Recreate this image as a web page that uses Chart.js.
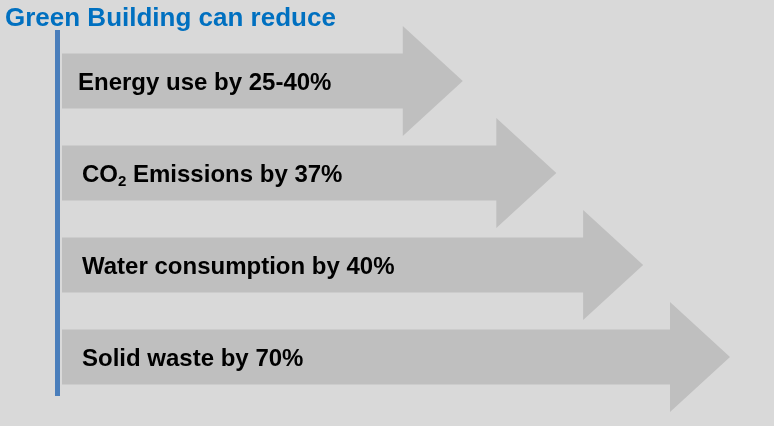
<!DOCTYPE html>
<html lang="en">
<head>
<meta charset="UTF-8" />
<title>Green Building can reduce</title>
<style>
  html, body {
    margin: 0;
    padding: 0;
    background: #d9d9d9;
  }
  #wrap {
    position: relative;
    width: 774px;
    height: 426px;
  }
</style>
</head>
<body>
  <div id="wrap">
    <canvas id="arrowChart" width="774" height="426"></canvas>
  </div>

  <script src="https://cdn.jsdelivr.net/npm/chart.js"></script>
  <script>
    // Chart data
    const chartTitle = 'Green Building can reduce';
    const categories = [
      'Energy use by 25-40%',
      'CO₂ Emissions by 37%',
      'Water consumption by 40%',
      'Solid waste by 70%'
    ];
    // relative arrow length (longest arrow = 100)
    const arrowLengths = [60, 74, 87, 100];

    const headLen = 60;

    // draws each bar as an arrow, plus the labels, the side rule and the title
    const arrowPlugin = {
      id: 'arrows',
      afterDatasetsDraw(chart) {
        const ctx = chart.ctx;
        const area = chart.chartArea;
        const bars = chart.getDatasetMeta(0).data;

        ctx.save();

        // title
        ctx.fillStyle = '#0070c0';
        ctx.font = 'bold 26px "Liberation Sans", Arial, sans-serif';
        ctx.textBaseline = 'alphabetic';
        ctx.textAlign = 'left';
        ctx.fillText(chartTitle, 5, 26);

        bars.forEach((bar, i) => {
          const p = bar.getProps(['x', 'y', 'base', 'height'], true);
          const h = p.height;
          const neck = p.x - headLen;
          ctx.fillStyle = '#bfbfbf';
          ctx.beginPath();
          ctx.moveTo(p.base, p.y - h / 2);
          ctx.lineTo(neck, p.y - h / 2);
          ctx.lineTo(neck, p.y - h);
          ctx.lineTo(p.x, p.y);
          ctx.lineTo(neck, p.y + h);
          ctx.lineTo(neck, p.y + h / 2);
          ctx.lineTo(p.base, p.y + h / 2);
          ctx.closePath();
          ctx.fill();

          // label text, with a subscript where needed
          const text = categories[i];
          const size = 24;
          let tx = p.base + (i === 0 ? 16 : 20);
          const ty = p.y + 8.5;
          ctx.fillStyle = '#000000';
          text.split(/(₂)/).forEach(part => {
            if (part === '₂') {
              ctx.font = 'bold 15px "Liberation Sans", Arial, sans-serif';
              ctx.fillText('2', tx, ty + 4);
              tx += ctx.measureText('2').width;
            } else if (part) {
              ctx.font = 'bold ' + size + 'px "Liberation Sans", Arial, sans-serif';
              ctx.fillText(part, tx, ty);
              tx += ctx.measureText(part).width;
            }
          });
        });

        // vertical rule on the left
        ctx.fillStyle = '#4a7ebb';
        ctx.fillRect(area.left - 7, area.top - 5, 5, area.bottom - area.top - 2);

        ctx.restore();
      }
    };

    const ctx = document.getElementById('arrowChart').getContext('2d');
    new Chart(ctx, {
      type: 'bar',
      data: {
        labels: categories,
        datasets: [{
          data: arrowLengths,
          backgroundColor: 'rgba(0,0,0,0)',
          barThickness: 55
        }]
      },
      options: {
        indexAxis: 'y',
        responsive: false,
        animation: false,
        layout: {
          padding: { left: 62, right: 44, top: 35, bottom: 23 }
        },
        scales: {
          x: { display: false, min: 0, max: 100 },
          y: { display: false }
        },
        plugins: {
          legend: { display: false },
          tooltip: { enabled: false },
          title: { display: false }
        }
      },
      plugins: [arrowPlugin]
    });
  </script>
</body>
</html>
